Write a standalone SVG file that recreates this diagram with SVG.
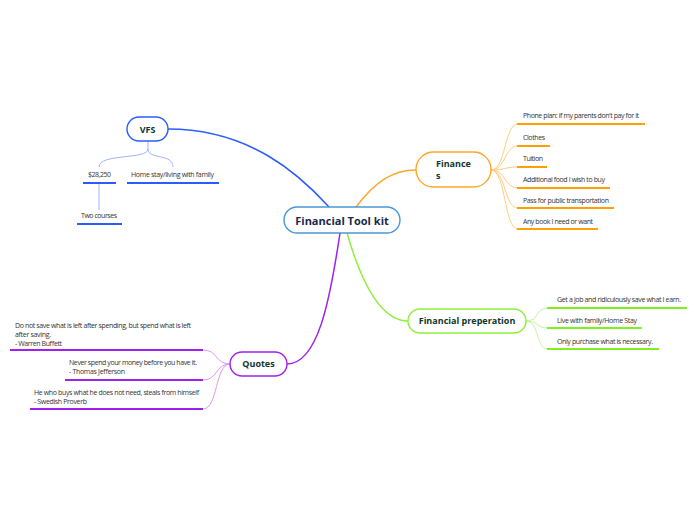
<svg xmlns="http://www.w3.org/2000/svg" width="696" height="520" viewBox="0 0 696 520">
<style>
  .node rect { fill: #ffffff; stroke-width: 1.4; }
  .lbl { font-family: "Open Sans", "Noto Sans", sans-serif; font-weight: bold; fill: #10372e; font-size: 9px; }
  .leaf { font-family: "Open Sans", "Noto Sans", sans-serif; fill: #333333; font-size: 7px; }
  .ul { stroke-width: 2; fill: none; }
  .br { fill: none; stroke-width: 1; }
  .main { fill: none; stroke-width: 1.5; }
</style>
<rect width="696" height="520" fill="#ffffff"/>
<g id="connectors">
  <path class="main" stroke="#2a5cff" d="M168,129 C250,129 300,175 329,207"/>
  <path class="main" stroke="#ffa726" d="M356,207 C375,182 392,170 416,170"/>
  <path class="main" stroke="#8ef03a" d="M347,233 C362,285 382,321 408,321"/>
  <path class="main" stroke="#a020f0" d="M340,233 C330,300 318,364 287,364"/>
  <!-- VFS branches -->
  <path class="br" stroke="#9fb3ff" d="M148,141 V149 C148,160 99,153 99,167"/>
  <path class="br" stroke="#9fb3ff" d="M148,149 C148,160 173,153 173,167"/>
  <path class="br" stroke="#9fb3ff" d="M99,184 V210"/>
  <!-- Finance branches -->
  <g stroke="#ffcc80" class="br">
    <path d="M491,170 C506,170 504,124 518,124"/>
    <path d="M491,170 C506,170 504,146 518,146"/>
    <path d="M491,170 C506,170 504,167 518,167"/>
    <path d="M491,170 C506,170 504,188 518,188"/>
    <path d="M491,170 C506,170 504,208 518,208"/>
    <path d="M491,170 C506,170 504,229 518,229"/>
  </g>
  <!-- Financial preperation branches -->
  <g stroke="#c2f59a" class="br">
    <path d="M526,321 C540,321 535,308 548,308"/>
    <path d="M526,321 C540,321 535,328 548,328"/>
    <path d="M526,321 C540,321 535,349 548,349"/>
  </g>
  <!-- Quotes branches -->
  <g stroke="#d79af7" class="br">
    <path d="M230,364 C215,364 218,350 203,350"/>
    <path d="M230,364 C215,364 218,380 203,380"/>
    <path d="M230,364 C215,364 218,409 203,409"/>
  </g>
</g>

<g id="central" class="node">
  <rect x="284" y="207" width="116" height="26" rx="13" stroke="#4a98d6"/>
  <text x="342" y="225" text-anchor="middle" font-family="Open Sans, Noto Sans, sans-serif" font-weight="bold" font-size="11" fill="#1b2a48">Financial Tool kit</text>
</g>

<g id="vfs" class="node">
  <rect x="127" y="117" width="41" height="24" rx="12" stroke="#2a5cff"/>
  <text class="lbl" x="147.5" y="132.5" text-anchor="middle">VFS</text>
</g>
<g id="vfs-leaf1">
  <text class="leaf" x="88" y="177" textLength="23" lengthAdjust="spacing">$28,250</text>
  <line class="ul" stroke="#2a5cff" x1="83" y1="183" x2="116" y2="183"/>
</g>
<g id="vfs-leaf2">
  <text class="leaf" x="131" y="177" textLength="83" lengthAdjust="spacing">Home stay/living with family</text>
  <line class="ul" stroke="#2a5cff" x1="127" y1="183" x2="219" y2="183"/>
</g>
<g id="vfs-leaf3">
  <text class="leaf" x="81" y="218" textLength="36" lengthAdjust="spacing">Two courses</text>
  <line class="ul" stroke="#2a5cff" x1="77" y1="224" x2="122" y2="224"/>
</g>

<g id="finances" class="node">
  <rect x="416" y="152" width="75" height="35" rx="17.5" stroke="#ffa726"/>
  <text class="lbl" x="436" y="167">Finance</text>
  <text class="lbl" x="436" y="179">s</text>
</g>
<g id="fin-leaves" class="leaf-group">
  <text class="leaf" x="523" y="118" textLength="116" lengthAdjust="spacing">Phone plan: if my parents don't pay for it</text>
  <line class="ul" stroke="#ffa000" x1="517" y1="124" x2="645" y2="124"/>
  <text class="leaf" x="523" y="140" textLength="22" lengthAdjust="spacing">Clothes</text>
  <line class="ul" stroke="#ffa000" x1="517" y1="146" x2="550" y2="146"/>
  <text class="leaf" x="523" y="161" textLength="20" lengthAdjust="spacing">Tuition</text>
  <line class="ul" stroke="#ffa000" x1="517" y1="167" x2="547" y2="167"/>
  <text class="leaf" x="523" y="182" textLength="82" lengthAdjust="spacing">Additional food I wish to buy</text>
  <line class="ul" stroke="#ffa000" x1="517" y1="188" x2="610" y2="188"/>
  <text class="leaf" x="523" y="203" textLength="86" lengthAdjust="spacing">Pass for public transportation</text>
  <line class="ul" stroke="#ffa000" x1="517" y1="208" x2="614" y2="208"/>
  <text class="leaf" x="523" y="224" textLength="70" lengthAdjust="spacing">Any book I need or want</text>
  <line class="ul" stroke="#ffa000" x1="517" y1="229" x2="598" y2="229"/>
</g>

<g id="finprep" class="node">
  <rect x="408" y="309" width="118" height="24" rx="12" stroke="#8ef03a"/>
  <text class="lbl" x="467" y="324" text-anchor="middle">Financial preperation</text>
</g>
<g id="finprep-leaves">
  <text class="leaf" x="557" y="302" textLength="124" lengthAdjust="spacing">Get a job and ridiculously save what I earn.</text>
  <line class="ul" stroke="#80ee20" x1="547" y1="308" x2="687" y2="308"/>
  <text class="leaf" x="557" y="323" textLength="80" lengthAdjust="spacing">Live with family/Home Stay</text>
  <line class="ul" stroke="#80ee20" x1="547" y1="328" x2="642" y2="328"/>
  <text class="leaf" x="557" y="344" textLength="96" lengthAdjust="spacing">Only purchase what is necessary.</text>
  <line class="ul" stroke="#80ee20" x1="547" y1="349" x2="659" y2="349"/>
</g>

<g id="quotes" class="node">
  <rect x="230" y="352" width="57" height="24" rx="12" stroke="#a020f0"/>
  <text class="lbl" x="258.5" y="367" text-anchor="middle">Quotes</text>
</g>
<g id="quotes-leaves">
  <text class="leaf" x="15" y="328" textLength="176" lengthAdjust="spacing">Do not save what is left after spending, but spend what is left</text>
  <text class="leaf" x="15" y="337" textLength="36" lengthAdjust="spacing">after saving.</text>
  <text class="leaf" x="15" y="346" textLength="47" lengthAdjust="spacing">- Warren Buffett</text>
  <line class="ul" stroke="#a020f0" x1="10" y1="350" x2="203" y2="350"/>
  <text class="leaf" x="69" y="365" textLength="128" lengthAdjust="spacing">Never spend your money before you have it.</text>
  <text class="leaf" x="69" y="374" textLength="56" lengthAdjust="spacing">- Thomas Jefferson</text>
  <line class="ul" stroke="#a020f0" x1="65" y1="380" x2="203" y2="380"/>
  <text class="leaf" x="34" y="395" textLength="165" lengthAdjust="spacing">He who buys what he does not need, steals from himself</text>
  <text class="leaf" x="34" y="404" textLength="53" lengthAdjust="spacing">- Swedish Proverb</text>
  <line class="ul" stroke="#a020f0" x1="30" y1="409" x2="203" y2="409"/>
</g>
</svg>
